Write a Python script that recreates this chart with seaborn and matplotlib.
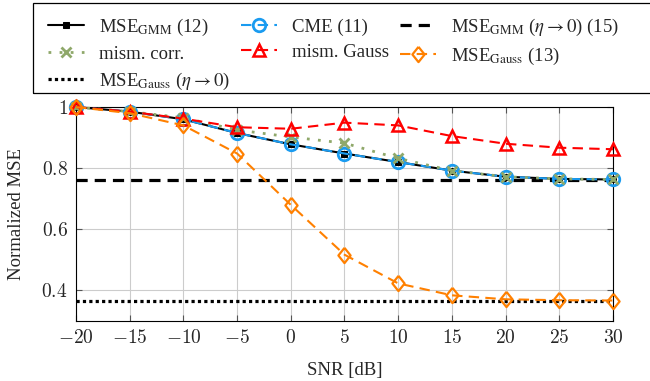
import numpy as np
import matplotlib
matplotlib.use("Agg")
import matplotlib.pyplot as plt
from matplotlib.patches import Rectangle
import seaborn as sns

# SNR axis
snr = [-20, -15, -10, -5, 0, 5, 10, 15, 20, 25, 30]

# curves
mse_gmm = [1.0, 0.985, 0.96, 0.915, 0.878, 0.848, 0.82, 0.792, 0.772, 0.765, 0.763]
cme = [1.0, 0.985, 0.96, 0.915, 0.878, 0.848, 0.82, 0.792, 0.772, 0.765, 0.763]
mism_corr = [1.0, 0.985, 0.965, 0.925, 0.902, 0.882, 0.832, 0.792, 0.772, 0.765, 0.763]
mism_gauss = [1.0, 0.985, 0.962, 0.934, 0.929, 0.949, 0.94, 0.905, 0.88, 0.867, 0.862]
mse_gauss = [1.0, 0.98, 0.94, 0.848, 0.68, 0.517, 0.423, 0.384, 0.371, 0.368, 0.367]

# asymptotes
mse_gmm_lim = 0.761
mse_gauss_lim = 0.365

yticks = [0.4, 0.6, 0.8, 1.0]
ytick_labels = ['0.4', '0.6', '0.8', '1']

sns.set_style("ticks")
plt.rcParams['font.family'] = ['Liberation Serif', 'DejaVu Serif']
plt.rcParams['mathtext.fontset'] = 'stix'
plt.rcParams['font.size'] = 13.5

fig = plt.figure(figsize=(6.5, 3.81), dpi=100)
ax = fig.add_axes([0.117, 0.1575, 0.826, 0.5615])

blue = '#1a9bf0'
green = '#8fa86a'
red = '#ff0000'
orange = '#ff8000'
diamond = [(0, 1), (0.8, 0), (0, -1), (-0.8, 0), (0, 1)]

sns.lineplot(x=snr, y=mse_gmm, ax=ax, color='black', lw=1.5, marker='s', markersize=4,
             markeredgecolor='black', label=r'MSE$_{\mathrm{GMM}}$ (12)', zorder=3,
             clip_on=False)
sns.lineplot(x=snr, y=cme, ax=ax, color=blue, lw=1.5,
             linestyle=(0, (5, 3)), marker='o', markersize=9,
             markerfacecolor='none', markeredgecolor=blue, markeredgewidth=2,
             label='CME (11)', zorder=4, clip_on=False)
sns.lineplot(x=snr, y=mism_corr, ax=ax, color=green, lw=2, linestyle=(0, (1, 3)),
             marker='x', markersize=7, markeredgewidth=2, markeredgecolor=green,
             label='mism. corr.', zorder=5, clip_on=False)
sns.lineplot(x=snr, y=mism_gauss, ax=ax, color=red, lw=1.5, linestyle=(0, (5, 3)),
             marker='^', markersize=9, markerfacecolor='none', markeredgecolor=red,
             markeredgewidth=1.8, label='mism. Gauss', zorder=5, clip_on=False)
sns.lineplot(x=snr, y=mse_gauss, ax=ax, color=orange, lw=1.5, linestyle=(0, (5, 3)),
             marker=diamond, markersize=11, markerfacecolor='none', markeredgecolor=orange,
             markeredgewidth=1.6, label=r'MSE$_{\mathrm{Gauss}}$ (13)', zorder=5,
             clip_on=False)
ax.axhline(mse_gmm_lim, color='black', lw=2.3, linestyle=(0, (3.5, 2.2)),
           label=r'MSE$_{\mathrm{GMM}}$ ($\eta \rightarrow 0$) (15)', zorder=2)
ax.axhline(mse_gauss_lim, color='black', lw=2.3, linestyle=(0, (1, 1)),
           label=r'MSE$_{\mathrm{Gauss}}$ ($\eta \rightarrow 0$)', zorder=2)

ax.set_xlim(-20, 30)
ax.set_ylim(0.3, 1.0)
ax.set_xticks(snr)
ax.set_xticklabels([f'${v}$' for v in snr], math_fontfamily='cm', fontsize=14)
ax.set_yticks(yticks)
ax.set_yticklabels([f'${t}$' for t in ytick_labels], math_fontfamily='cm', fontsize=14)
ax.grid(True, color='#cccccc', lw=0.8)
ax.tick_params(direction='in', top=True, right=True, length=4, pad=6,
               color='#555555')
for s in ax.spines.values():
    s.set_color('black')
    s.set_linewidth(0.8)
ax.set_xlabel('SNR [dB]')
ax.set_ylabel('Normalized MSE')
ax.xaxis.set_label_coords(0.5, -0.19)
ax.yaxis.set_label_coords(-0.095, 0.5)

handles, labels = ax.get_legend_handles_labels()
lab_idx = {l: i for i, l in enumerate(labels)}
order = [r'MSE$_{\mathrm{GMM}}$ (12)', 'mism. corr.', r'MSE$_{\mathrm{Gauss}}$ ($\eta \rightarrow 0$)',
         'CME (11)', 'mism. Gauss',
         r'MSE$_{\mathrm{GMM}}$ ($\eta \rightarrow 0$) (15)', r'MSE$_{\mathrm{Gauss}}$ (13)']
leg = fig.legend([handles[lab_idx[o]] for o in order], order, ncol=3,
                 loc='upper left', bbox_to_anchor=(0.051, 0.995),
                 fontsize=13.5, frameon=False, handlelength=1.9, handletextpad=0.8,
                 columnspacing=0.6, labelspacing=0.42, borderpad=0.3)
if ax.get_legend():
    ax.get_legend().remove()

# legend box runs off the right edge, as in the reference
fig.patches.append(Rectangle((0.051, 1 - 93 / 381), 1.0, 90 / 381,
                             transform=fig.transFigure, fill=False,
                             edgecolor='black', lw=0.9))

fig.savefig('out.png', dpi=100)
